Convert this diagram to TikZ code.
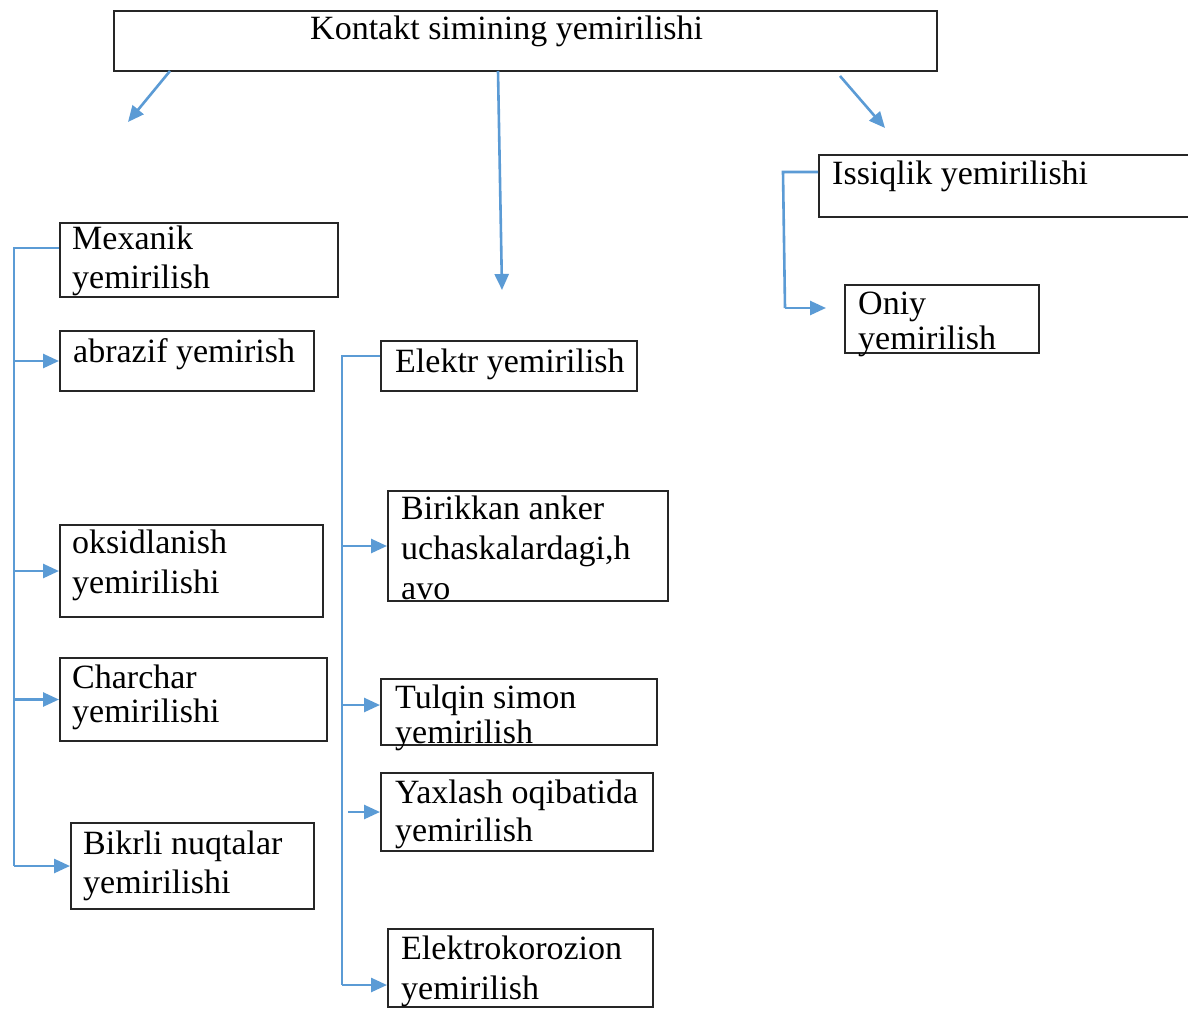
\documentclass[tikz,border=0pt]{standalone}
\usepackage{fontspec}
\setmainfont{Liberation Serif}
\usetikzlibrary{arrows.meta,calc}
\definecolor{connc}{HTML}{5B9BD5}
\newcommand{\sr}{\rule{0pt}{27pt}}
\tikzset{
  box/.style={draw=black!85, line width=2pt, anchor=north west, inner sep=0pt, fill=none},
  txt/.style={anchor=north west, inner sep=0pt, align=left, font=\fontsize{34}{39}\selectfont},
  conn/.style={draw=connc, line width=2.6pt},
  arr/.style={conn, -{Triangle[length=16pt,width=14pt]}}
}
\begin{document}
\begin{tikzpicture}[x=1pt,y=-1pt]
\clip (0,0) rectangle (1188,1009);
\fill[white] (0,0) rectangle (1188,1009);
% boxes
\node[box, minimum width=823pt, minimum height=60pt] (top) at (113,10) {};
\node[box, minimum width=380pt, minimum height=62pt] (iss) at (818,154) {};
\node[box, minimum width=194pt, minimum height=68pt] (oniy) at (844,284) {};
\node[box, minimum width=278pt, minimum height=74pt] (mex) at (59,222) {};
\node[box, minimum width=254pt, minimum height=60pt] (abr) at (59,330) {};
\node[box, minimum width=263pt, minimum height=92pt] (oks) at (59,524) {};
\node[box, minimum width=267pt, minimum height=83pt] (cha) at (59,657) {};
\node[box, minimum width=243pt, minimum height=86pt] (bik) at (70,822) {};
\node[box, minimum width=256pt, minimum height=50pt] (el) at (380,340) {};
\node[box, minimum width=280pt, minimum height=110pt] (bir) at (387,490) {};
\node[box, minimum width=276pt, minimum height=66pt] (tul) at (380,678) {};
\node[box, minimum width=272pt, minimum height=78pt] (yax) at (380,772) {};
\node[box, minimum width=265pt, minimum height=78pt] (ekt) at (387,928) {};
% texts
\node[txt] (topt) at (310,12) {\sr Kontakt simining yemirilishi};
\node[txt] (isst) at (832,157) {\sr Issiqlik yemirilishi};
\node[txt, font=\fontsize{34}{35}\selectfont] (oniyt) at (858,287) {\sr Oniy\\yemirilish};
\node[txt] (mext) at (72,222) {\sr Mexanik\\yemirilish};
\node[txt] (abrt) at (73,335) {\sr abrazif yemirish};
\node[txt, font=\fontsize{34}{40}\selectfont] (okst) at (72,526) {\sr oksidlanish\\yemirilishi};
\node[txt, font=\fontsize{34}{34}\selectfont] (chat) at (72,661) {\sr Charchar\\yemirilishi};
\node[txt] (bikt) at (83,827) {\sr Bikrli nuqtalar\\yemirilishi};
\node[txt] (elt) at (395,345) {\sr Elektr yemirilish};
\node[txt, font=\fontsize{34}{40}\selectfont] (birt) at (401,492) {\sr Birikkan anker\\uchaskalardagi,h\\avo};
\node[txt, font=\fontsize{34}{35}\selectfont] (tult) at (395,681) {\sr Tulqin simon\\yemirilish};
\node[txt, font=\fontsize{34}{38}\selectfont] (yaxt) at (395,776) {\sr Yaxlash oqibatida\\yemirilish};
\node[txt, font=\fontsize{34}{40}\selectfont] (ektt) at (401,932) {\sr Elektrokorozion\\yemirilish};
% top arrows
\coordinate (a1s) at (170,71);
\coordinate (a1e) at (128,122);
\coordinate (a2s) at (498,71);
\coordinate (a2e) at (502,290);
\coordinate (a3s) at (840,76);
\coordinate (a3e) at (885,128);
\draw[arr] (a1s) -- (a1e);
\draw[arr] (a2s) -- (a2e);
\draw[arr] (a3s) -- (a3e);
% left bracket
\coordinate (ls) at (14,248);
\draw[conn] (mex.west |- ls) -- (ls) -- (ls |- bik.west);
\draw[arr] (ls |- abr.west) -- (abr.west);
\draw[arr] (ls |- oks.west) -- (oks.west);
\draw[arr] (ls |- cha.west) -- (cha.west);
\draw[arr] (ls |- bik.west) -- (bik.west);
% middle bracket
\coordinate (ms) at (342,356);
\coordinate (mb) at (342,985);
\draw[conn] (el.west |- ms) -- (ms) -- (mb);
\draw[arr] (ms |- bir.west) -- (bir.west);
\draw[arr] ([yshift=7pt]ms |- tul.west) -- ([yshift=7pt]tul.west);
\draw[arr] ($(ms |- yax.west)+(6,0)$) -- (yax.west);
\draw[arr] (mb) -- (ekt.west |- mb);
% right bracket
\coordinate (rs) at (783,172);
\coordinate (rb) at (785,308);
\draw[conn] (iss.west |- rs) -- (rs) -- (rb);
\draw[arr] (rb) -- ($(oniy.west |- rb)+(-18,0)$);
\end{tikzpicture}
\end{document}
